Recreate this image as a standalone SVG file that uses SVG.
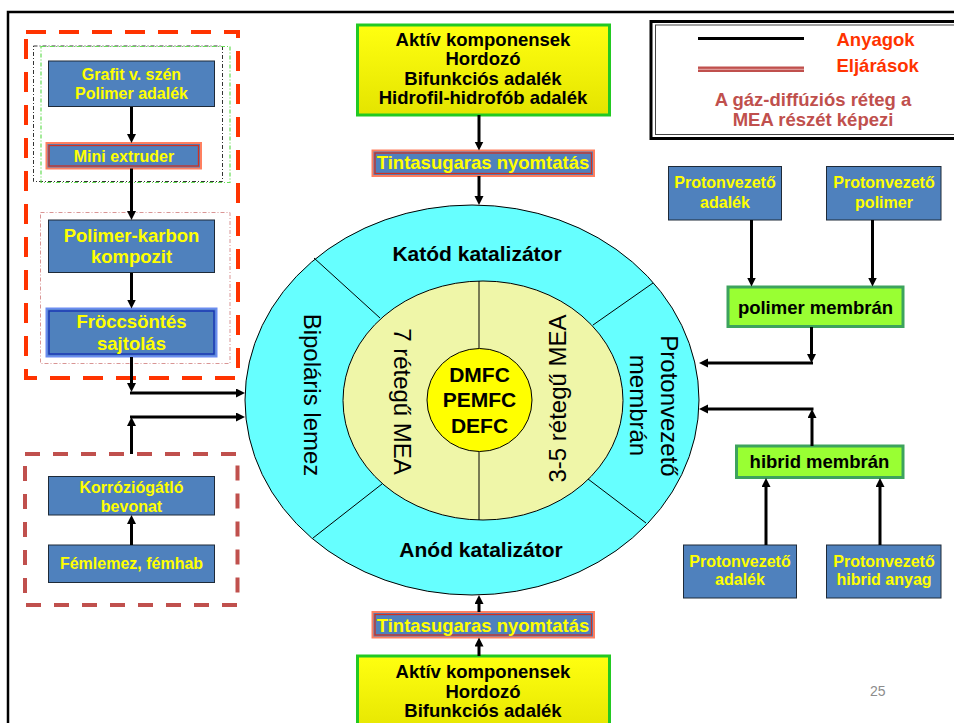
<svg xmlns="http://www.w3.org/2000/svg" width="954" height="723" viewBox="0 0 954 723">
<defs>
<style>
text{font-family:"Liberation Sans",Arial,sans-serif}
.b{font-weight:bold}
.y{fill:#FFFF00}
.k{fill:#000}
.s16{font-size:16px}
.s18{font-size:18.5px}
.s21{font-size:21px}
.r24{font-size:24px}
.box{fill:#4F81BD;stroke:#1E2A38;stroke-width:1}
.green{fill:#99FF33;stroke:#3DA35D;stroke-width:3}
.ybox{fill:url(#yg);stroke:#22C922;stroke-width:3}
.conn{fill:none;stroke:#000;stroke-width:3}
.thin{stroke:#000;stroke-width:1;fill:none}
</style>
<linearGradient id="yg" x1="0" y1="0" x2="0" y2="1">
<stop offset="0" stop-color="#FFFF10"/>
<stop offset="1" stop-color="#E4E400"/>
</linearGradient>
<marker id="arr" markerUnits="userSpaceOnUse" markerWidth="10" markerHeight="10" refX="5" refY="4.5" orient="auto">
<path d="M0,0 L9,4.5 L0,9 z" fill="#000"/>
</marker>
</defs>
<rect width="954" height="723" fill="#fff"/>
<path d="M8,723 V12 H954" fill="none" stroke="#000" stroke-width="2.5"/>

<!-- legend -->
<g id="legend">
<rect x="651" y="21.5" width="320" height="117" fill="#fff" stroke="#000" stroke-width="3"/>
<rect x="655.5" y="25" width="320" height="109.5" fill="none" stroke="#444" stroke-width="1"/>
<line x1="698" y1="38.5" x2="804" y2="38.5" stroke="#000" stroke-width="3"/>
<rect x="698" y="66.5" width="106" height="5.5" fill="#C0504D"/>
<line x1="698" y1="69.3" x2="804" y2="69.3" stroke="#E6B0AE" stroke-width="1"/>
<text x="836.5" y="46" class="b s18" fill="#FF3300">Anyagok</text>
<text x="836.5" y="72" class="b s18" fill="#FF3300">Eljárások</text>
<text x="813" y="106" class="b s18" fill="#C0504D" text-anchor="middle">A gáz-diffúziós réteg a</text>
<text x="813" y="126" class="b s18" fill="#C0504D" text-anchor="middle">MEA részét képezi</text>
</g>

<!-- left group frames -->
<g id="frames">
<rect x="26" y="32" width="212" height="346" fill="none" stroke="#FF3300" stroke-width="4" stroke-dasharray="20 13"/>
<rect x="33.5" y="46" width="189" height="135.5" fill="none" stroke="#333" stroke-width="1" stroke-dasharray="4 2 1 2"/>
<rect x="41" y="46.5" width="189" height="136" fill="none" stroke="#66DD55" stroke-width="1.2" stroke-dasharray="4 2 1 2"/>
<rect x="40.5" y="212.5" width="189.5" height="151" fill="none" stroke="#D99594" stroke-width="1" stroke-dasharray="4 2 1 2"/>
<rect x="25" y="454" width="212.5" height="151" fill="none" stroke="#C0504D" stroke-width="4" stroke-dasharray="15 13"/>
</g>

<!-- central wheel -->
<g id="wheel">
<ellipse cx="472" cy="400" rx="227" ry="195" fill="#66FFFF" stroke="#000" stroke-width="1"/>
<ellipse cx="483" cy="400.5" rx="140" ry="119.5" fill="#EFF6A8" stroke="#000" stroke-width="1"/>
<line x1="314" y1="258" x2="380" y2="318" class="thin"/>
<line x1="653" y1="283" x2="593" y2="325" class="thin"/>
<line x1="313" y1="538" x2="382" y2="484" class="thin"/>
<line x1="646" y1="523" x2="588" y2="479" class="thin"/>
<line x1="479" y1="281" x2="479" y2="348" class="thin"/>
<line x1="479" y1="452" x2="479" y2="520" class="thin"/>
<ellipse cx="479.5" cy="400" rx="52.5" ry="51.5" fill="#FFFF00" stroke="#000" stroke-width="1"/>
<text x="479.5" y="381.7" class="b s21 k" text-anchor="middle">DMFC</text>
<text x="479.5" y="407.3" class="b s21 k" text-anchor="middle">PEMFC</text>
<text x="479.5" y="433.3" class="b s21 k" text-anchor="middle">DEFC</text>
<text x="477" y="261" class="b s21 k" text-anchor="middle">Katód katalizátor</text>
<text x="481" y="557" class="b s21 k" text-anchor="middle">Anód katalizátor</text>
<text transform="translate(303.5,395) rotate(90)" class="r24 k" text-anchor="middle">Bipoláris lemez</text>
<text transform="translate(393.5,401.5) rotate(90)" class="r24 k" text-anchor="middle">7 rétegű MEA</text>
<text transform="translate(566,398.5) rotate(-90)" class="r24 k" text-anchor="middle">3-5 rétegű MEA</text>
<text transform="translate(661,406) rotate(90)" class="r24 k" text-anchor="middle">Protonvezető</text>
<text transform="translate(629.5,405.5) rotate(90)" class="r24 k" text-anchor="middle">membrán</text>
</g>

<!-- top inputs -->
<g id="top-materials">
<rect x="357.5" y="25" width="252" height="90" class="ybox"/>
<text x="483" y="46" class="b s18 k" text-anchor="middle">Aktív komponensek</text>
<text x="483" y="65.3" class="b s18 k" text-anchor="middle">Hordozó</text>
<text x="483" y="85" class="b s18 k" text-anchor="middle">Bifunkciós adalék</text>
<text x="483" y="104.3" class="b s18 k" text-anchor="middle">Hidrofil-hidrofób adalék</text>
</g>
<g id="top-print">
<rect x="372.5" y="150.5" width="221.5" height="25.5" fill="#4F81BD" stroke="#FF8060" stroke-width="2"/>
<rect x="375" y="153" width="216.5" height="20.5" fill="none" stroke="#D03020" stroke-width="1.3"/>
<text x="483" y="169.3" class="b s18 y" text-anchor="middle">Tintasugaras nyomtatás</text>
</g>

<!-- bottom inputs -->
<g id="bottom-print">
<rect x="372.5" y="612" width="221.5" height="25.5" fill="#4F81BD" stroke="#FF8060" stroke-width="2"/>
<rect x="375" y="614.5" width="216.5" height="20.5" fill="none" stroke="#D03020" stroke-width="1.3"/>
<text x="483" y="631.7" class="b s18 y" text-anchor="middle">Tintasugaras nyomtatás</text>
</g>
<g id="bottom-materials">
<rect x="357.5" y="656" width="252" height="80" class="ybox"/>
<text x="483" y="678.3" class="b s18 k" text-anchor="middle">Aktív komponensek</text>
<text x="483" y="697.8" class="b s18 k" text-anchor="middle">Hordozó</text>
<text x="483" y="717" class="b s18 k" text-anchor="middle">Bifunkciós adalék</text>
</g>

<!-- left chain -->
<g id="grafit">
<rect x="48.5" y="61" width="166" height="45.5" class="box"/>
<text x="131.5" y="80" class="b s16 y" text-anchor="middle">Grafit v. szén</text>
<text x="131.5" y="99.3" class="b s16 y" text-anchor="middle">Polimer adalék</text>
</g>
<g id="mini-extruder">
<rect x="46.5" y="143" width="154.5" height="25.5" fill="#4F81BD" stroke="#FF8060" stroke-width="2"/>
<rect x="49" y="145.5" width="149.5" height="20.5" fill="none" stroke="#D03020" stroke-width="1.3"/>
<text x="124" y="161.7" class="b s16 y" text-anchor="middle">Mini extruder</text>
</g>
<g id="polimer-karbon">
<rect x="48.5" y="220" width="166" height="52.5" class="box"/>
<text x="131.5" y="242.3" class="b s18 y" text-anchor="middle">Polimer-karbon</text>
<text x="131.5" y="263" class="b s18 y" text-anchor="middle">kompozit</text>
</g>
<g id="froccsontes">
<rect x="46.5" y="308.5" width="170" height="48" fill="#4F81BD" stroke="#6A8CF0" stroke-width="2"/>
<rect x="49" y="311" width="165" height="43" fill="none" stroke="#1733B5" stroke-width="1.4"/>
<text x="131.5" y="328.3" class="b s18 y" text-anchor="middle">Fröccsöntés</text>
<text x="131.5" y="349.5" class="b s18 y" text-anchor="middle">sajtolás</text>
</g>
<g id="korrozio">
<rect x="48.5" y="476.5" width="166" height="38.5" class="box"/>
<text x="131.5" y="492.7" class="b s16 y" text-anchor="middle">Korróziógátló</text>
<text x="131.5" y="511.5" class="b s16 y" text-anchor="middle">bevonat</text>
</g>
<g id="femlemez">
<rect x="48.5" y="545" width="166" height="37.5" class="box"/>
<text x="131.5" y="569.3" class="b s16 y" text-anchor="middle">Fémlemez, fémhab</text>
</g>

<!-- right side -->
<g id="pv-adalek-top">
<rect x="668.5" y="166.5" width="113" height="53.5" class="box"/>
<text x="725" y="188.3" class="b s16 y" text-anchor="middle">Protonvezető</text>
<text x="725" y="208.3" class="b s16 y" text-anchor="middle">adalék</text>
</g>
<g id="pv-polimer">
<rect x="826.5" y="166.5" width="114.5" height="53.5" class="box"/>
<text x="884" y="188.3" class="b s16 y" text-anchor="middle">Protonvezető</text>
<text x="884" y="208.3" class="b s16 y" text-anchor="middle">polimer</text>
</g>
<g id="polimer-membran">
<rect x="728" y="287" width="175" height="39.5" class="green"/>
<text x="815.5" y="314" class="b s18 k" text-anchor="middle">polimer membrán</text>
</g>
<g id="hibrid-membran">
<rect x="736.5" y="446" width="166.5" height="31.5" class="green"/>
<text x="819.5" y="468.3" class="b s18 k" text-anchor="middle">hibrid membrán</text>
</g>
<g id="pv-adalek-bottom">
<rect x="683.5" y="545" width="113" height="53" class="box"/>
<text x="740" y="566.7" class="b s16 y" text-anchor="middle">Protonvezető</text>
<text x="740" y="585" class="b s16 y" text-anchor="middle">adalék</text>
</g>
<g id="pv-hibrid">
<rect x="826.5" y="545" width="114.5" height="53" class="box"/>
<text x="884" y="566.7" class="b s16 y" text-anchor="middle">Protonvezető</text>
<text x="884" y="585" class="b s16 y" text-anchor="middle">hibrid anyag</text>
</g>

<!-- connectors -->
<g id="connectors" class="conn">
<path d="M131.5,107 V139" class="conn" marker-end="url(#arr)"/>
<path d="M131.5,168.5 V216" class="conn" marker-end="url(#arr)"/>
<path d="M131.5,273 V304.5" class="conn" marker-end="url(#arr)"/>
<path d="M131.5,357 V388" class="conn" marker-end="url(#arr)"/>
<path d="M130,393 H241" class="conn" marker-end="url(#arr)"/>
<path d="M131.5,454 V421" class="conn" marker-end="url(#arr)"/>
<path d="M130,417 H241" class="conn" marker-end="url(#arr)"/>
<path d="M131.5,545 V519" class="conn" marker-end="url(#arr)"/>
<path d="M479,115 V146.5" class="conn" marker-end="url(#arr)"/>
<path d="M479,176 V201" class="conn" marker-end="url(#arr)"/>
<path d="M479,656 V641.5" class="conn" marker-end="url(#arr)"/>
<path d="M479,612 V599" class="conn" marker-end="url(#arr)"/>
<path d="M751.5,220 V282.5" class="conn" marker-end="url(#arr)"/>
<path d="M872.5,220 V282.5" class="conn" marker-end="url(#arr)"/>
<path d="M811.5,327 V359" class="conn" marker-end="url(#arr)"/>
<path d="M813,363 H703" class="conn" marker-end="url(#arr)"/>
<path d="M812,446 V413" class="conn" marker-end="url(#arr)"/>
<path d="M813.5,409 H703" class="conn" marker-end="url(#arr)"/>
<path d="M766,545 V482" class="conn" marker-end="url(#arr)"/>
<path d="M880,545 V482" class="conn" marker-end="url(#arr)"/>
</g>

<text x="870" y="696" font-size="14" fill="#8C8C8C">25</text>
</svg>
